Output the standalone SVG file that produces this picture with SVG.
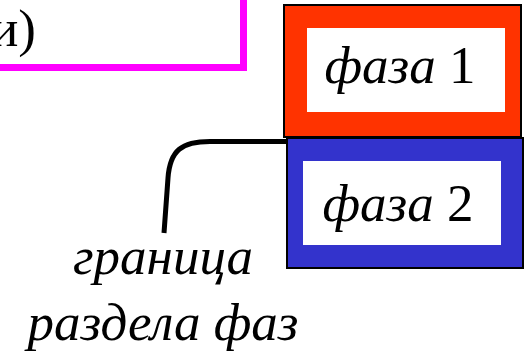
<svg xmlns="http://www.w3.org/2000/svg" width="525" height="351" viewBox="0 0 525 351">
<style>
.t{font-family:"Liberation Serif","Times New Roman",serif;font-size:53px;fill:#000}
.i{font-style:italic}
</style>
<rect width="525" height="351" fill="#fff"/>
<g id="magenta-box">
<rect x="-20" y="-20" width="263.5" height="87.5" fill="#fff" stroke="#FF00FF" stroke-width="7"/>
<text class="t" x="36" y="46" text-anchor="end">и)</text>
</g>
<g id="phase1">
<rect x="284" y="5" width="237" height="132" fill="#FF3300" stroke="#000" stroke-width="2"/>
<rect x="307" y="28" width="198" height="84" fill="#fff"/>
<text class="t" x="400" y="83" text-anchor="middle"><tspan class="i">фаза</tspan> 1</text>
</g>
<g id="phase2">
<rect x="287" y="138" width="236" height="130" fill="#3333CC" stroke="#000" stroke-width="2"/>
<rect x="303" y="161" width="198" height="84" fill="#fff"/>
<text class="t" x="398" y="221" text-anchor="middle"><tspan class="i">фаза</tspan> 2</text>
</g>
<g id="connectors">
<path d="M287,141.5 L210,141.5 C182,141.5 170,150 168,178 L164,233" fill="none" stroke="#000" stroke-width="5"/>
</g>
<g id="label">
<text class="t i" x="163" y="274" text-anchor="middle">граница</text>
<text class="t i" x="163" y="340" text-anchor="middle">раздела фаз</text>
</g>
</svg>
